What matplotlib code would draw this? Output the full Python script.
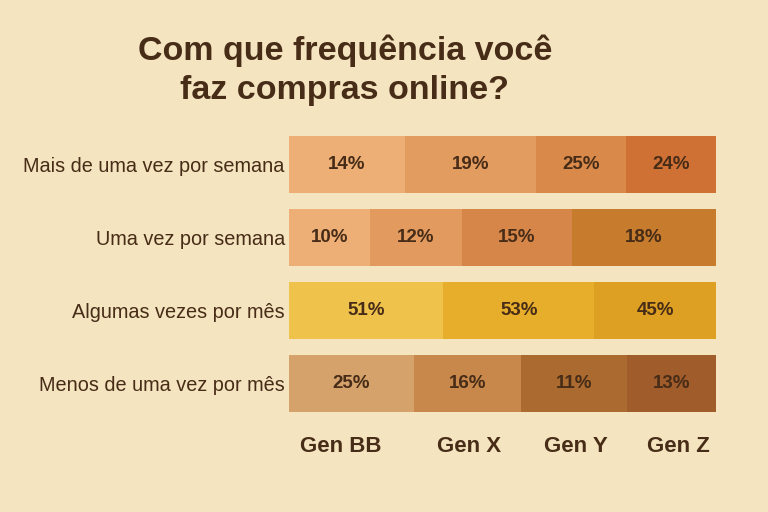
import matplotlib.pyplot as plt

plt.rcParams["font.family"] = ["Liberation Sans", "DejaVu Sans"]

# rows, top to bottom
rows = [
    "Mais de uma vez por semana",
    "Uma vez por semana",
    "Algumas vezes por mês",
    "Menos de uma vez por mês",
]
# segment lengths as drawn (share of the bar) and the printed labels
widths = [
    [27.2, 30.7, 21.1, 21.0],
    [19.0, 21.5, 25.8, 33.7],
    [36.1, 35.4, 28.5],
    [29.3, 25.1, 24.8, 20.8],
]
labels = [
    ["14%", "19%", "25%", "24%"],
    ["10%", "12%", "15%", "18%"],
    ["51%", "53%", "45%"],
    ["25%", "16%", "11%", "13%"],
]
colors = [
    ["#EEAF76", "#E39C5F", "#D98A4B", "#CF7035"],
    ["#EEAF76", "#E29A5E", "#D68648", "#C67B2D"],
    ["#EFC24B", "#E6AE2B", "#DEA023"],
    ["#D5A26C", "#C8884B", "#AA6A30", "#A05C2A"],
]
gens = ["Gen BB", "Gen X", "Gen Y", "Gen Z"]
gen_pos = [12.2, 42.2, 67.2, 91.1]

bg = "#F4E4BF"
ink = "#472C17"

fig = plt.figure(figsize=(7.68, 5.12), dpi=100, facecolor=bg)
ax = fig.add_axes([289 / 768, 1 - 412 / 512, 427 / 768, 276 / 512])
ax.set_facecolor(bg)

h = 0.78
for i, (w, lab, col) in enumerate(zip(widths, labels, colors)):
    left = 0
    for wi, li, ci in zip(w, lab, col):
        ax.barh(i, wi, left=left, height=h, color=ci, edgecolor="none")
        ax.text(left + wi / 2, i, li, ha="center", va="center",
                fontsize=13.5, fontweight="bold", color=ink)
        left += wi

ax.set_xlim(0, 100)
ax.set_ylim(3 + h / 2, -h / 2)
ax.set_yticks(range(len(rows)))
ax.set_yticklabels(rows, fontsize=14.3, color=ink)
ax.set_xticks(gen_pos)
ax.set_xticklabels(gens, fontsize=16, fontweight="bold", color=ink)
ax.tick_params(axis="y", length=0, pad=3)
ax.tick_params(axis="x", length=0, pad=17)
for s in ax.spines.values():
    s.set_visible(False)

fig.text(345 / 768, 1 - 70 / 512, "Com que frequência você\nfaz compras online?",
         ha="center", va="center", fontsize=24.5, fontweight="bold",
         color=ink, linespacing=1.35)

fig.savefig("out.png", dpi=100, facecolor=bg)
